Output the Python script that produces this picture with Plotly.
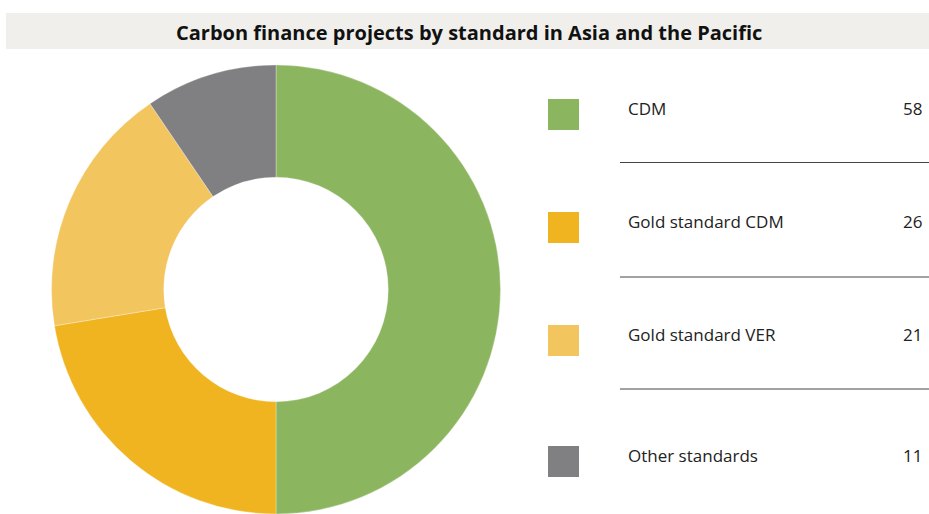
import plotly.graph_objects as go

# Data
categories = ["CDM", "Gold standard CDM", "Gold standard VER", "Other standards"]
values = [58, 26, 21, 11]
colors = ["#8cb560", "#efb41f", "#f3c55e", "#808083"]
title_text = "Carbon finance projects by standard in Asia and the Pacific"

W, H = 929, 514

def px(x):
    return x / W

def py(y):
    return 1 - y / H

fig = go.Figure()

# Donut: centre ~ (276, 289), radius ~225
cx, cy, r = 276, 289.5, 224.5
fig.add_trace(go.Pie(
    labels=categories,
    values=values,
    marker=dict(colors=colors, line=dict(color="rgba(255,255,255,0.6)", width=0.5)),
    hole=0.5,
    sort=False,
    direction="clockwise",
    rotation=0,
    textinfo="none",
    hoverinfo="label+value",
    showlegend=False,
    domain=dict(x=[px(cx - r), px(cx + r)], y=[py(cy + r), py(cy - r)]),
))

shapes = []
annotations = []

# Title bar
shapes.append(dict(type="rect", xref="paper", yref="paper",
                   x0=px(6), x1=1, y0=py(49), y1=py(13),
                   fillcolor="#f0efeb", line=dict(width=0), layer="below"))
annotations.append(dict(xref="paper", yref="paper", x=px(469), y=py(32),
                        text="<b>" + title_text + "</b>", showarrow=False,
                        xanchor="center", yanchor="middle",
                        font=dict(family="Open Sans", size=20, color="#111111")))

# Legend rows (layout positions)
row_tops = [99, 212, 325, 446]
sep_lines = [162.5, 277, 389]
sq = 31

for cat, val, col, top in zip(categories, values, colors, row_tops):
    shapes.append(dict(type="rect", xref="paper", yref="paper",
                       x0=px(548), x1=px(548 + sq), y0=py(top + sq), y1=py(top),
                       fillcolor=col, line=dict(width=0)))
    annotations.append(dict(xref="paper", yref="paper", x=px(626), y=py(top + 9),
                            text=cat, showarrow=False, xanchor="left", yanchor="middle",
                            font=dict(family="Open Sans", size=17, color="#222222")))
    annotations.append(dict(xref="paper", yref="paper", x=px(924), y=py(top + 9),
                            text=str(val), showarrow=False, xanchor="right", yanchor="middle",
                            font=dict(family="Open Sans", size=17, color="#222222")))

for ly in sep_lines:
    shapes.append(dict(type="line", xref="paper", yref="paper",
                       x0=px(620), x1=px(929), y0=py(ly), y1=py(ly),
                       line=dict(color="#444444", width=1)))

fig.update_layout(
    width=W, height=H,
    margin=dict(l=0, r=0, t=0, b=0),
    paper_bgcolor="white",
    plot_bgcolor="white",
    shapes=shapes,
    annotations=annotations,
)

fig.write_html(
    "out.html",
    config={"displayModeBar": False},
    post_script="document.body.style.margin='0px';document.body.style.overflow='hidden';",
)
